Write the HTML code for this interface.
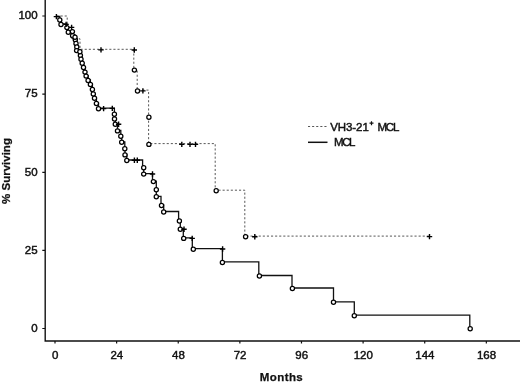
<!DOCTYPE html>
<html><head><meta charset="utf-8">
<style>
html,body{margin:0;padding:0;background:#fff;}
body{width:520px;height:382px;overflow:hidden;}
svg{display:block;filter:grayscale(1);}
text{font-family:"Liberation Sans",sans-serif;font-size:11.5px;fill:#111;stroke:#111;stroke-width:0.45px;}
.b{font-weight:bold;stroke-width:0.25px;}
</style></head>
<body>
<svg width="520" height="382" viewBox="0 0 520 382">
<rect width="520" height="382" fill="#fff"/>
<path d="M45.2,0V341H520" fill="none" stroke="#111" stroke-width="1.4"/>
<path d="M42.3,16.0H45M42.3,94.1H45M42.3,172.3H45M42.3,250.4H45M42.3,328.5H45M55.00,341V343.6M116.62,341V343.6M178.24,341V343.6M239.86,341V343.6M301.48,341V343.6M363.10,341V343.6M424.72,341V343.6M486.34,341V343.6" fill="none" stroke="#111" stroke-width="1.2"/>
<path d="M56.5,16 H67.2 V27.5 H72 V38.8 H80 V49.3 H133.8 V69.5 H137.2 V90.1 H148.6 V143.6 H215.2 V190.2 H244.8 V236.1 H429.5" fill="none" stroke="#3a3a3a" stroke-width="0.85" stroke-dasharray="2.1 2"/>
<path d="M56.5,16.5 H59.8 V19.5 H61.0 V23.9 H66.9 V27.1 H68.3 V31.7 H72.6 V35.2 H75.3 V39.2 H76 V42.9 H76.8 V46.5 H76.6 V50.1 H80.4 V54.9 H81 V58.7 H82.2 V62.7 H83.5 V67.0 H85 V71.6 H86.1 V75.6 H88.1 V79.9 H90.4 V84.0 H92.4 V89.0 H93.3 V93.4 H94.5 V97.7 H96.4 V103.0 H98.5 V108.2 H114.4 V113.7 H114.5 V118.5 H115.3 V123.7 H117.5 V130.4 H120.8 V135.8 H121.7 V141.8 H124.8 V148.2 H125 V154.4 H126.8 V160.0 H142.6 V167.2 H143.7 V173.6 H152.5 V181.1 H156.3 V189.3 H156.3 V196.3 H161 V205.0 H163.7 V211.5 H178.6 V220.5 H180.3 V228.8 H183.3 V237.9 H192.3 V248.7 H222.4 V261.9 H258.8 V275.5 H292 V288.0 H333.5 V301.8 H354.3 V315.2 H469.8 V328.2" fill="none" stroke="#111" stroke-width="1.3"/>
<g fill="#fff" stroke="#000" stroke-width="1.25"><circle cx="59.8" cy="20.0" r="2.1"/><circle cx="61.0" cy="24.4" r="2.1"/><circle cx="66.9" cy="27.6" r="2.1"/><circle cx="68.3" cy="32.2" r="2.1"/><circle cx="72.6" cy="35.7" r="2.1"/><circle cx="75.3" cy="39.7" r="2.1"/><circle cx="76" cy="43.4" r="2.1"/><circle cx="76.8" cy="47.0" r="2.1"/><circle cx="76.6" cy="50.6" r="2.1"/><circle cx="80.4" cy="55.4" r="2.1"/><circle cx="81" cy="59.2" r="2.1"/><circle cx="82.2" cy="63.2" r="2.1"/><circle cx="83.5" cy="67.5" r="2.1"/><circle cx="85" cy="72.1" r="2.1"/><circle cx="86.1" cy="76.1" r="2.1"/><circle cx="88.1" cy="80.4" r="2.1"/><circle cx="90.4" cy="84.5" r="2.1"/><circle cx="92.4" cy="89.5" r="2.1"/><circle cx="93.3" cy="93.9" r="2.1"/><circle cx="94.5" cy="98.2" r="2.1"/><circle cx="96.4" cy="103.5" r="2.1"/><circle cx="98.5" cy="108.7" r="2.1"/><circle cx="114.4" cy="114.2" r="2.1"/><circle cx="114.5" cy="119" r="2.1"/><circle cx="115.3" cy="124.2" r="2.1"/><circle cx="117.5" cy="130.9" r="2.1"/><circle cx="120.8" cy="136.3" r="2.1"/><circle cx="121.7" cy="142.3" r="2.1"/><circle cx="124.8" cy="148.7" r="2.1"/><circle cx="125" cy="154.9" r="2.1"/><circle cx="126.8" cy="160.5" r="2.1"/><circle cx="143.7" cy="167.7" r="2.1"/><circle cx="143.7" cy="174.1" r="2.1"/><circle cx="153.4" cy="181.6" r="2.1"/><circle cx="156.3" cy="189.8" r="2.1"/><circle cx="156.3" cy="196.8" r="2.1"/><circle cx="161.5" cy="205.5" r="2.1"/><circle cx="163.7" cy="212" r="2.1"/><circle cx="179.4" cy="221" r="2.1"/><circle cx="180.3" cy="229.3" r="2.1"/><circle cx="183.7" cy="238.4" r="2.1"/><circle cx="193.3" cy="249.2" r="2.1"/><circle cx="222.4" cy="262.4" r="2.1"/><circle cx="259.4" cy="276" r="2.1"/><circle cx="292.4" cy="288.5" r="2.1"/><circle cx="333.5" cy="302.3" r="2.1"/><circle cx="354.3" cy="315.7" r="2.1"/><circle cx="470.2" cy="328.7" r="2.1"/><circle cx="72.4" cy="31.6" r="2.1"/><circle cx="75" cy="37.2" r="2.1"/><circle cx="79.9" cy="51.7" r="2.1"/><circle cx="134.4" cy="70.1" r="2.1"/><circle cx="137.5" cy="90.9" r="2.1"/><circle cx="148.9" cy="117.3" r="2.1"/><circle cx="148.9" cy="144.4" r="2.1"/><circle cx="216.2" cy="190.8" r="2.1"/><circle cx="245.6" cy="236.8" r="2.1"/></g>
<path d="M63.4,24.4H68.8M66.1,21.7V27.1 M68.9,27.4H74.3M71.6,24.7V30.1 M100.9,108.6H106.3M103.6,105.9V111.3 M109.6,108.4H115.0M112.3,105.7V111.1 M115.9,124.2H121.3M118.6,121.5V126.9 M131.7,160.3H137.1M134.4,157.6V163.0 M134.6,160.3H140.0M137.3,157.6V163.0 M149.8,174.0H155.2M152.5,171.3V176.7 M181.3,229.3H186.7M184.0,226.6V232.0 M189.5,238.4H194.9M192.2,235.7V241.1 M219.9,249.0H225.3M222.6,246.3V251.7 M98.3,49.9H103.7M101.0,47.2V52.6 M131.6,50.0H137.0M134.3,47.3V52.7 M140.2,90.9H145.6M142.9,88.2V93.6 M179.1,144.4H184.5M181.8,141.7V147.1 M187.3,144.4H192.7M190.0,141.7V147.1 M192.8,144.4H198.2M195.5,141.7V147.1 M252.1,236.8H257.5M254.8,234.1V239.5 M426.8,236.6H432.2M429.5,233.9V239.3 M53.7,16.6H59.1M56.4,13.9V19.3" fill="none" stroke="#000" stroke-width="1.4"/>
<path d="M308,126.5H326.5" fill="none" stroke="#3a3a3a" stroke-width="0.85" stroke-dasharray="2.1 2"/>
<path d="M308,142.3H327.5" fill="none" stroke="#111" stroke-width="1.5"/>
<text x="330.3" y="131.2" font-size="12" letter-spacing="-0.1">VH3-21</text>
<path d="M369.5,123.2H373.5M371.5,121.2V125.2" fill="none" stroke="#111" stroke-width="1.2"/>
<text x="377.6" y="131.2" font-size="11.5" letter-spacing="-1.3">MCL</text>
<text x="334" y="145.9" font-size="11.5" letter-spacing="-1.4">MCL</text>
<text x="37.6" y="19.3" text-anchor="end">100</text><text x="37.6" y="97.4" text-anchor="end">75</text><text x="37.6" y="175.6" text-anchor="end">50</text><text x="37.6" y="253.7" text-anchor="end">25</text><text x="37.6" y="331.8" text-anchor="end">0</text><text x="55.2" y="358.7" text-anchor="middle">0</text><text x="116.8" y="358.7" text-anchor="middle">24</text><text x="178.4" y="358.7" text-anchor="middle">48</text><text x="240.1" y="358.7" text-anchor="middle">72</text><text x="301.7" y="358.7" text-anchor="middle">96</text><text x="363.3" y="358.7" text-anchor="middle">120</text><text x="424.9" y="358.7" text-anchor="middle">144</text><text x="486.5" y="358.7" text-anchor="middle">168</text>
<text class="b" x="281.5" y="381" text-anchor="middle" letter-spacing="0.4" font-size="11.5">Months</text>
<text class="b" transform="translate(9.7,171) rotate(-90)" text-anchor="middle" font-size="11.5">% Surviving</text>
</svg>
</body></html>
